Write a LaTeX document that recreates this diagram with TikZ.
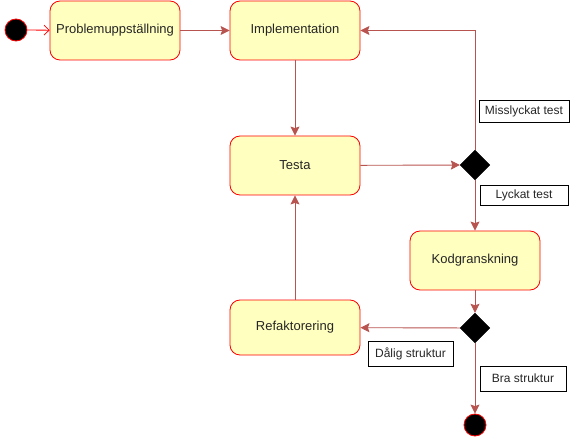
\documentclass[tikz,border=0pt]{standalone}
\usepackage{fontspec}
\setmainfont{Liberation Sans}
\usetikzlibrary{arrows.meta,shapes.geometric}
\definecolor{boxfill}{HTML}{FFFFC0}
\definecolor{edgecol}{HTML}{B85450}

\begin{document}
\begin{tikzpicture}[
  x=1pt, y=-1pt,
  state/.style={rectangle, rounded corners=10pt, draw=red, fill=boxfill, line width=0.8pt,
    minimum width=130pt, minimum height=59pt, font=\fontsize{13}{15}\selectfont, text=black!85},
  dot/.style={circle, draw=red, fill=black, line width=0.8pt, minimum size=22pt, inner sep=0pt},
  decision/.style={diamond, draw=black, fill=black, minimum width=30pt, minimum height=30pt, inner sep=0pt},
  guard/.style={rectangle, draw=black, fill=white, line width=0.6pt, font=\fontsize{12}{14}\selectfont,
    minimum height=22pt, inner xsep=6pt, text=black!85},
  flow/.style={draw=edgecol, line width=0.9pt, -{Stealth[length=9pt,width=9pt,inset=1.5pt]}},
  startflow/.style={draw=red, line width=0.8pt, -{Straight Barb[length=5pt,width=10pt]}}
]
\useasboundingbox (0,0) rectangle (571,441);

\node[dot] (start) at (16,30) {};
\node[state] (prob) at (115,30.5) {Problemuppställning};
\node[state] (impl) at (295,30.5) {Implementation};
\node[state] (testa) at (295,165.5) {Testa};
\node[decision] (dec1) at (475,165) {};
\node[state] (kod) at (475,260.5) {Kodgranskning};
\node[decision] (dec2) at (475,328) {};
\node[state, minimum height=55pt] (refak) at (295,327.5) {Refaktorering};
\node[dot] (stop) at (475,425) {};

\node[guard, minimum width=88pt] (miss) at (524,111) {Misslyckat test};
\node[guard, minimum width=88pt, minimum height=20pt] (lyck) at (524,195.5) {Lyckat test};
\node[guard, minimum width=85pt, minimum height=25pt] (dalig) at (410.5,353.5) {Dålig struktur};
\node[guard, minimum width=86pt, minimum height=25pt] (bra) at (523,378.5) {Bra struktur};

\draw[startflow] (start) -- (prob);
\draw[flow] (prob) -- (impl);
\draw[flow] (impl) -- (testa);
\draw[flow] (testa) -- (dec1);
\draw[flow] (dec1.north) |- (impl.east);
\draw[flow] (dec1) -- (kod);
\draw[flow] (kod) -- (dec2);
\draw[flow] (dec2) -- (refak);
\draw[flow] (refak) -- (testa);
\draw[flow] (dec2) -- (stop);

\end{tikzpicture}
\end{document}
